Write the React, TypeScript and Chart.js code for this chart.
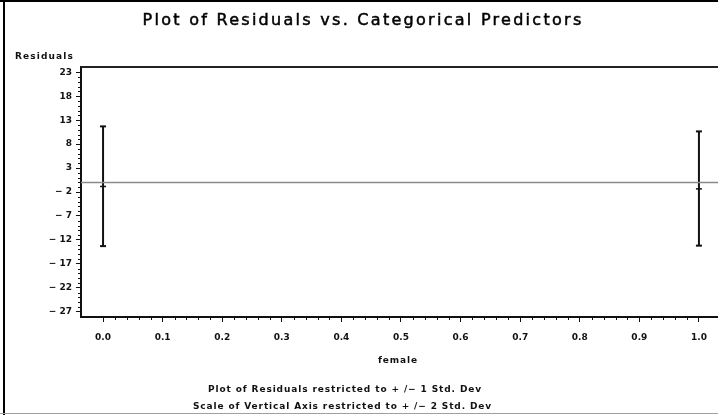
import React, { useEffect, useRef } from 'react';
import { Chart, registerables } from 'chart.js';

Chart.register(...registerables);

// Category levels of the predictor "female"
const categories = [0, 1];
// Mean residual per level and the ±1 SD limits around it
const residualMeans = [-0.85, -1.35];
const upperLimits = [11.7, 10.65];
const lowerLimits = [-13.3, -13.2];

// Zero-residual reference level
const referenceLevel = 0;

// Axis ticks and ranges
const xTicks = [0, 0.1, 0.2, 0.3, 0.4, 0.5, 0.6, 0.7, 0.8, 0.9, 1.0];
const yTicks = [-27, -22, -17, -12, -7, -2, 3, 8, 13, 18, 23];
const xRange = [-0.037, 1.032];
const yRange = [-28.1, 24.1];

const titleText = 'Plot of Residuals vs. Categorical Predictors';
const yAxisLabel = 'Residuals';
const xAxisLabel = 'female';
const footnotes = [
  'Plot of Residuals restricted to + /− 1 Std. Dev',
  'Scale of Vertical Axis restricted to + /− 2 Std. Dev',
];

const FONT = "'DejaVu Sans', 'Liberation Sans', Arial, sans-serif";
const INK = '#111111';

function spacedText(
  ctx: CanvasRenderingContext2D,
  text: string,
  x: number,
  y: number,
  font: string,
  width: number,
  align: 'center' | 'left',
  heavy = 0
) {
  ctx.font = font;
  (ctx as any).letterSpacing = '0px';
  const w = ctx.measureText(text).width;
  const s = (width - w) / text.length;
  (ctx as any).letterSpacing = `${s}px`;
  ctx.textAlign = 'left';
  ctx.textBaseline = 'middle';
  const left = align === 'center' ? x - width / 2 : x;
  ctx.fillText(text, left, y);
  if (heavy > 0) {
    ctx.lineWidth = heavy;
    ctx.strokeStyle = ctx.fillStyle as string;
    ctx.strokeText(text, left, y);
  }
  (ctx as any).letterSpacing = '0px';
}

const decorations = {
  id: 'decorations',
  beforeDraw(chart: any) {
    const { ctx, width, height } = chart;
    ctx.save();
    ctx.fillStyle = '#ffffff';
    ctx.fillRect(0, 0, width, height);
    ctx.restore();
  },
  afterDraw(chart: any) {
    const { ctx, chartArea: a, scales, width, height } = chart;
    const x = scales.x;
    const y = scales.y;
    ctx.save();

    // outer frame
    ctx.fillStyle = '#000';
    ctx.fillRect(0, 0, width, 2);
    ctx.fillRect(3, 0, 2, height);
    ctx.fillStyle = '#a0a0a0';
    ctx.fillRect(0, height - 2, width, 1);

    // top edge of plot frame
    ctx.fillStyle = '#222';
    ctx.fillRect(a.left, a.top - 1, width - a.left, 2);

    // minor ticks
    ctx.strokeStyle = INK;
    ctx.lineWidth = 1;
    ctx.beginPath();
    for (let v = yTicks[0]; v <= yTicks[yTicks.length - 1]; v++) {
      if (yTicks.includes(v)) continue;
      const py = Math.round(y.getPixelForValue(v)) + 0.5;
      ctx.moveTo(a.left - 3, py);
      ctx.lineTo(a.left, py);
    }
    for (let k = 0; k <= 50; k++) {
      if (k % 5 === 0) continue;
      const px = Math.round(x.getPixelForValue(k * 0.02)) + 0.5;
      ctx.moveTo(px, a.bottom);
      ctx.lineTo(px, a.bottom + 3);
    }
    ctx.stroke();

    // text
    ctx.fillStyle = '#000';
    spacedText(ctx, titleText, 363, 21, `16px ${FONT}`, 441, 'center', 0.5);
    ctx.fillStyle = INK;
    spacedText(ctx, yAxisLabel, 15, 57, `bold 9px ${FONT}`, 59, 'left');
    spacedText(ctx, xAxisLabel, 398, 361, `bold 9px ${FONT}`, 40, 'center');
    spacedText(ctx, footnotes[0], 345, 390, `bold 9px ${FONT}`, 274, 'center');
    spacedText(ctx, footnotes[1], 342.5, 407, `bold 9px ${FONT}`, 299, 'center');
    ctx.restore();
  },
};

export default function App() {
  const canvasRef = useRef<HTMLCanvasElement | null>(null);

  useEffect(() => {
    const canvas = canvasRef.current;
    if (!canvas) return;

    const barSets = categories.map((c, i) => ({
      type: 'line' as const,
      data: [
        { x: c, y: lowerLimits[i] },
        { x: c, y: upperLimits[i] },
      ],
      borderColor: INK,
      borderWidth: 2,
      pointStyle: 'line',
      pointRadius: 3,
      pointBorderWidth: 2,
      pointBorderColor: INK,
      pointHoverRadius: 0,
    }));

    const meanSet = {
      type: 'line' as const,
      data: categories.map((c, i) => ({ x: c, y: residualMeans[i] })),
      showLine: false,
      pointStyle: 'line',
      pointRadius: 3,
      pointBorderWidth: 1.5,
      pointBorderColor: INK,
      borderColor: INK,
    };

    const refSet = {
      type: 'line' as const,
      data: [
        { x: xRange[0], y: referenceLevel },
        { x: xRange[1], y: referenceLevel },
      ],
      borderColor: '#8a8a8a',
      borderWidth: 1.5,
      pointRadius: 0,
    };

    const chart = new Chart(canvas, {
      type: 'line',
      data: { datasets: [refSet, ...barSets, meanSet] as any },
      plugins: [decorations],
      options: {
        animation: false,
        responsive: false,
        events: [],
        layout: { autoPadding: false, padding: { top: 67, left: 0, right: 0, bottom: 0 } },
        plugins: {
          legend: { display: false },
          tooltip: { enabled: false },
          title: { display: false },
        },
        scales: {
          x: {
            type: 'linear',
            min: xRange[0],
            max: xRange[1],
            afterBuildTicks: (scale: any) => {
              scale.ticks = xTicks.map((v) => ({ value: v }));
            },
            afterFit: (scale: any) => {
              scale.height = 98;
              scale.paddingLeft = 0;
              scale.paddingRight = 0;
            },
            ticks: {
              callback: (v: any) => Number(v).toFixed(1),
              font: { family: FONT, size: 9, weight: 'bold' },
              color: INK,
              padding: 10,
              maxRotation: 0,
              autoSkip: false,
            },
            grid: {
              drawOnChartArea: false,
              drawTicks: true,
              tickLength: 5,
              tickWidth: 1,
              tickColor: INK,
            },
            border: { display: true, color: INK, width: 2 },
          },
          y: {
            type: 'linear',
            min: yRange[0],
            max: yRange[1],
            afterBuildTicks: (scale: any) => {
              scale.ticks = yTicks.map((v) => ({ value: v }));
            },
            afterFit: (scale: any) => {
              scale.width = 81;
              scale.paddingTop = 0;
              scale.paddingBottom = 0;
            },
            ticks: {
              callback: (v: any) => (Number(v) < 0 ? `− ${Math.abs(Number(v))}` : String(v)),
              font: { family: FONT, size: 9, weight: 'bold' },
              color: INK,
              padding: 4,
              autoSkip: false,
            },
            grid: {
              drawOnChartArea: false,
              drawTicks: true,
              tickLength: 5,
              tickWidth: 1,
              tickColor: INK,
            },
            border: { display: true, color: INK, width: 2 },
          },
        },
      } as any,
    });

    return () => chart.destroy();
  }, []);

  return (
    <div style={{ position: 'fixed', left: 0, top: 0, width: 718, height: 415, background: '#fff' }}>
      <canvas ref={canvasRef} width={718} height={415} style={{ display: 'block' }} />
    </div>
  );
}
